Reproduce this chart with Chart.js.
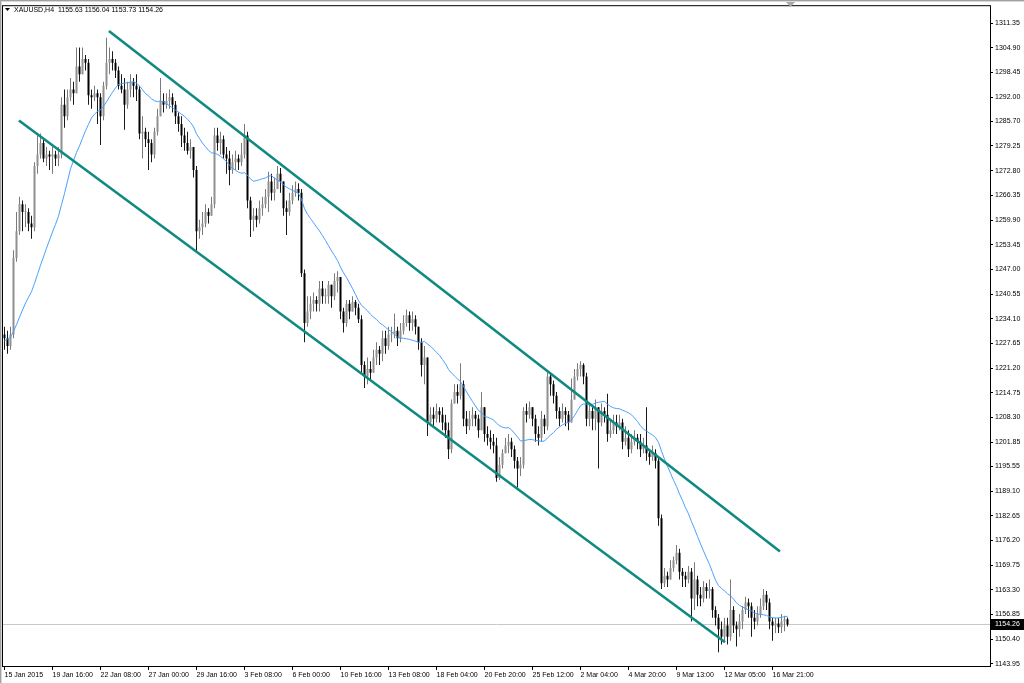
<!DOCTYPE html>
<html>
<head>
<meta charset="utf-8">
<script src="https://cdn.jsdelivr.net/npm/chart.js@4.4.1/dist/chart.umd.min.js"></script>
<style>
  html, body { margin: 0; padding: 0; background: #fff; overflow: hidden; }
  #wrap { width: 1024px; height: 683px; }
</style>
</head>
<body>
<div id="wrap"><canvas id="chart" width="1024" height="683"></canvas></div>
<script>
// ── XAUUSD H4 – data ──
const symbolTitle = 'XAUUSD,H4  1155.63 1156.04 1153.73 1154.26';

const timeLabels = ['15 Jan 2015','19 Jan 16:00','22 Jan 08:00','27 Jan 00:00','29 Jan 16:00','3 Feb 08:00',
  '6 Feb 00:00','10 Feb 16:00','13 Feb 08:00','18 Feb 04:00','20 Feb 20:00','25 Feb 12:00','2 Mar 04:00',
  '4 Mar 20:00','9 Mar 13:00','12 Mar 05:00','16 Mar 21:00'];
const labelEvery = 16; // bars between two time labels

const priceTicks = [1311.35,1304.90,1298.45,1292.00,1285.70,1279.25,1272.80,1266.35,1259.90,1253.45,1247.00,
  1240.55,1234.10,1227.65,1221.20,1214.75,1208.30,1201.85,1195.55,1189.10,1182.65,1176.20,1169.75,1163.30,
  1156.85,1150.40,1143.95];

// closes before the first visible bar (only used to seed the moving average)
const closesBefore = [1216,1218,1219,1221,1222,1224,1225,1226,1228,1229,1231,1230,1232,1233,1231,1234,1235,1236,1234,1230];

const closes = [
  1229,1227,1230,1250,1257,1264,1262,1262,1259,1258,
  1274,1277,1280,1276,1277,1276.5,1277,1276,1277,1290,
  1287,1292,1294,1293,1300,1298,1302,1301,1292.5,1292,
  1293,1292,1287,1295,1301,1302,1301,1299,1295,1294,
  1290,1294,1296,1295,1294,1282.5,1283,1281,1280,1277,
  1283,1287,1291,1290,1291,1292,1290,1287,1285,1282,
  1280,1278,1279,1273,1257,1258,1259,1262,1261,1264,
  1282,1280,1281,1277,1276,1273,1275,1276,1275,1277,
  1282,1265,1260,1261,1260,1263,1264,1266,1270,1267,
  1268,1272,1270,1263,1262,1265,1267,1268,1267,1246,
  1233,1236,1238,1239,1238,1242,1240,1240,1243,1240,
  1244,1245,1236,1233,1238,1236,1238.5,1237,1234,1222,
  1219,1221,1220,1224,1226,1225,1229,1227,1230,1230,
  1231,1229,1231,1233,1235,1233,1234,1232,1228,1222,
  1224,1207,1209,1208,1210,1209,1207,1205,1200,1212,
  1215,1214,1217,1208,1206,1208,1209,1208,1205,1211,
  1204,1203,1202,1201,1192.5,1196,1199,1201,1202,1200,
  1197,1195,1196,1210,1209,1211,1208,1204,1203,1208,
  1206,1219,1217,1214,1210,1208,1210,1209,1207,1213,
  1219,1221,1222,1219,1208,1210,1208,1211,1207,1210,
  1209,1204,1205,1207,1206,1207,1202,1203,1200,1202,
  1203,1202,1200,1201,1199,1198,1199,1197,1182,1165,
  1167,1166,1169,1171,1173,1168,1167,1166,1168,1161,
  1166,1162,1161,1164,1163,1163.5,1158,1156,1153,1151,
  1154,1151,1158,1154,1153,1155,1158,1160,1159,1156,
  1155,1157,1159,1162,1160,1155,1154,1154.5,1153.5,1155,
  1155.63,1154.26
];

const highs = [
  1232,1231,1232,1252,1262,1266,1265,1264,1263,1261,
  1275,1282,1282.5,1281,1279,1278,1279,1278,1279,1292,
  1294,1294,1297,1296,1305,1305,1305,1303,1302,1294,
  1295,1294,1293,1296,1307.5,1305,1304,1302,1300,1298,
  1297,1296,1298,1297,1298,1295,1287,1284,1283,1281,
  1284,1289,1297,1293,1293,1294,1293,1291,1288,1287,
  1284,1283,1281,1279,1274,1260,1262,1264,1263,1266,
  1284,1284,1283,1282,1279,1278,1277,1278,1277,1280,
  1285,1283,1266,1263,1263,1265,1266,1268,1272.5,1272,
  1271,1274,1273.5,1270,1265,1267,1269,1270,1269.5,1268,
  1247,1240,1240,1241,1240,1244,1244,1242,1244,1243,
  1246,1246.5,1245,1237,1239,1239,1240,1239,1238,1235,
  1223,1224,1223,1226,1228,1227,1231,1231,1232,1232,
  1235.5,1232,1233,1235,1236.5,1236,1236,1235,1232,1229,
  1227,1224,1211,1211,1212,1211,1211,1209,1207,1213,
  1217,1217,1222.5,1218,1210,1210,1211,1210,1209,1215,
  1211,1206,1205,1204,1203,1198,1200,1203,1204,1203,
  1201,1198,1198,1211,1212,1212.5,1211,1209,1206,1210,
  1209,1220,1220,1218,1215,1211,1212,1211,1210,1218.5,
  1221,1222.5,1223,1222.5,1220,1212,1211,1213,1211,1212,
  1211,1214.5,1208,1209,1209,1209,1208,1206,1205,1204,
  1205,1204,1204,1203,1211,1200,1201,1200,1198,1183,
  1169,1168,1171,1172,1175,1174,1169,1168,1169.5,1169,
  1170.5,1167,1164,1165.5,1165,1166,1164,1159,1157,1155,
  1156,1156,1166,1159,1155,1157,1159,1161.5,1161,1160,
  1158,1159,1161,1163.5,1163,1161,1156,1156,1156,1157,
  1156.5,1156.04
];

const lows = [
  1226,1225,1226,1229,1249,1256,1257,1258,1257,1255,
  1257,1272,1276,1275,1274,1273,1272,1274,1274,1276,
  1284,1286,1291,1290,1293,1296,1298,1299,1290,1289,
  1291,1285,1279.5,1286,1294,1298,1299,1297,1294,1293,
  1283.5,1289,1292,1292,1291,1281,1276,1279,1273,1275,
  1276,1282,1287,1288,1289,1289,1288,1285,1283,1279,
  1278,1277,1276,1271,1251.5,1255,1256,1258,1259,1261,
  1263,1278,1277,1276,1272,1269,1272,1273,1273,1274,
  1276,1263,1255.5,1257,1258,1259,1261,1263,1262,1265,
  1265,1268,1267,1261,1256,1261,1264,1266,1265,1245,
  1228,1232,1234,1236,1236,1236,1238,1238,1238,1237,
  1239,1241,1234,1230.5,1232,1234,1236,1235,1233,1220,
  1216,1217,1218,1220,1222,1222,1223,1225,1226,1228,
  1229,1227,1228,1230,1232,1231,1231,1230,1226,1219,
  1217,1203.5,1206,1206,1207,1207,1205,1203,1197.5,1199,
  1212,1212,1213,1206,1204,1205,1206,1206,1203,1205,
  1202,1201,1200,1199,1191.5,1192,1195,1199,1199,1198,
  1195,1190,1193,1195,1207,1208,1206,1202,1201,1202,
  1204,1205,1214,1212,1208,1206,1207,1206,1205,1207,
  1213,1218,1219,1217,1206,1206,1205,1205,1195,1206,
  1207,1202,1203,1204,1204,1205,1200,1201,1198,1199,
  1201,1200,1198,1199,1197,1196,1197,1195,1180,1163.5,
  1164,1164,1166,1168,1170,1166,1164,1164,1165,1155,
  1158,1159,1159,1160,1161,1161,1156,1154,1147,1149,
  1150,1149,1150,1152,1148.5,1151,1153,1157,1156,1151,
  1153,1154,1156,1158,1158,1153,1150,1152,1152,1152,
  1152.5,1153.73
];

const maPeriod = 20;

// hand-drawn channel: [bar index, price]
const upperChannel = [{x: 34.8, y: 1309.3}, {x: 258.5, y: 1173.3}];
const lowerChannel = [{x: 4.8, y: 1285.9}, {x: 240.2, y: 1149.6}];

const barSlots = 329; // visible bar slots incl. the empty chart shift on the right

// ── derived series ──
const opens = closes.map((c, i) => i === 0 ? closesBefore[closesBefore.length - 1] : closes[i - 1]);
const allCloses = closesBefore.concat(closes);
const maValues = closes.map((c, i) => {
  const end = i + closesBefore.length;
  let s = 0;
  for (let k = end - maPeriod + 1; k <= end; k++) s += allCloses[k];
  return s / maPeriod;
});

const isBull = closes.map((c, i) => c >= opens[i]);
const bodyData = closes.map((c, i) => ({x: i, y: [opens[i], c]}));
const wickData = closes.map((c, i) => ({x: i, y: [lows[i], highs[i]]}));
const maData = maValues.map((v, i) => ({x: i, y: v}));

const FONT = 'Liberation Sans';
const lastClose = closes[closes.length - 1];

// ── frame, title, bid line, price box ──
const mt4Frame = {
  id: 'mt4Frame',
  beforeDraw(chart) {
    const c = chart.ctx;
    c.save();
    c.fillStyle = '#fff';
    c.fillRect(0, 0, chart.width, chart.height);
    c.restore();
  },
  beforeDatasetsDraw(chart) {
    const c = chart.ctx, a = chart.chartArea;
    const y = Math.round(chart.scales.y.getPixelForValue(lastClose)) + 0.5;
    c.save();
    c.strokeStyle = '#c8c8c8';
    c.lineWidth = 1;
    c.beginPath(); c.moveTo(a.left, y); c.lineTo(a.right, y); c.stroke();
    c.restore();
  },
  afterDraw(chart) {
    const c = chart.ctx, a = chart.chartArea;
    c.save();
    // outer window edge
    c.fillStyle = '#a0a0a0';
    c.fillRect(0, 0, chart.width, 1);
    c.fillRect(0, 0, 1, chart.height);
    c.fillStyle = '#d8d8d8';
    c.fillRect(1, 1, chart.width - 1, 1);
    c.fillRect(1, 1, 1, chart.height - 1);
    // chart frame
    c.strokeStyle = '#000';
    c.lineWidth = 1;
    c.strokeRect(a.left - 0.5, a.top - 0.5, a.right - a.left + 1, a.bottom - a.top + 1);
    // chart shift marker
    c.fillStyle = '#a8a8a8';
    c.beginPath(); c.moveTo(786, 2); c.lineTo(795, 2); c.lineTo(790.5, 7); c.closePath(); c.fill();
    // title
    c.fillStyle = '#000';
    c.beginPath(); c.moveTo(5, 8); c.lineTo(10, 8); c.lineTo(7.5, 11); c.closePath(); c.fill();
    c.font = '7px "' + FONT + '"';
    c.textBaseline = 'middle';
    c.fillText(symbolTitle, 14, 10);
    // bid price box
    const y = Math.round(chart.scales.y.getPixelForValue(lastClose));
    c.fillStyle = '#000';
    c.fillRect(a.right + 1, y - 5, 33, 11);
    c.fillStyle = '#fff';
    c.fillText(lastClose.toFixed(2), a.right + 5, y + 0.5);
    c.restore();
  }
};

new Chart(document.getElementById('chart').getContext('2d'), {
  type: 'bar',
  data: {
    datasets: [
      {
        label: 'wick', data: wickData, order: 3, grouped: false,
        barThickness: 1, inflateAmount: 0, borderWidth: 0,
        backgroundColor: isBull.map(b => b ? '#7a7a7a' : '#1a1a1a')
      },
      {
        label: 'body', data: bodyData, order: 2, grouped: false,
        barThickness: 2, inflateAmount: 0, borderWidth: 0, minBarLength: 1,
        backgroundColor: isBull.map(b => b ? '#909090' : '#000000')
      },
      {
        type: 'line', label: 'MA', data: maData, order: 1,
        borderColor: '#4aa0ff', borderWidth: 1, pointRadius: 0, tension: 0, fill: false
      },
      {
        type: 'line', label: 'upper', data: upperChannel, order: 0,
        borderColor: '#108a80', borderWidth: 2.6, pointRadius: 0, fill: false
      },
      {
        type: 'line', label: 'lower', data: lowerChannel, order: 0,
        borderColor: '#108a80', borderWidth: 2.6, pointRadius: 0, fill: false
      }
    ]
  },
  options: {
    responsive: false,
    animation: false,
    events: [],
    layout: { padding: { left: 3, top: 3, right: 0, bottom: 0 } },
    plugins: { legend: { display: false }, tooltip: { enabled: false } },
    scales: {
      x: {
        type: 'linear', min: -0.5, max: barSlots - 0.5, offset: false,
        border: { display: false },
        grid: { display: true, drawOnChartArea: false, drawTicks: true, offset: false, tickLength: 4, color: '#000' },
        afterBuildTicks: axis => { axis.ticks = timeLabels.map((_, k) => ({ value: k * labelEvery })); },
        afterFit: axis => { axis.height = 17; },
        ticks: {
          autoSkip: false, maxRotation: 0, align: 'start', padding: 1,
          color: '#000', font: { family: FONT, size: 7 },
          callback: v => timeLabels[v / labelEvery] ?? ''
        }
      },
      y: {
        type: 'linear', position: 'right', min: 1143.39, max: 1315.77,
        border: { display: false },
        grid: { display: true, drawOnChartArea: false, drawTicks: true, tickLength: 3, color: '#000' },
        afterBuildTicks: axis => { axis.ticks = priceTicks.map(v => ({ value: v })); },
        afterFit: axis => { axis.width = 34; },
        ticks: {
          autoSkip: false, padding: 2,
          color: '#000', font: { family: FONT, size: 7 },
          callback: v => v.toFixed(2)
        }
      }
    }
  },
  plugins: [mt4Frame]
});
</script>
</body>
</html>
